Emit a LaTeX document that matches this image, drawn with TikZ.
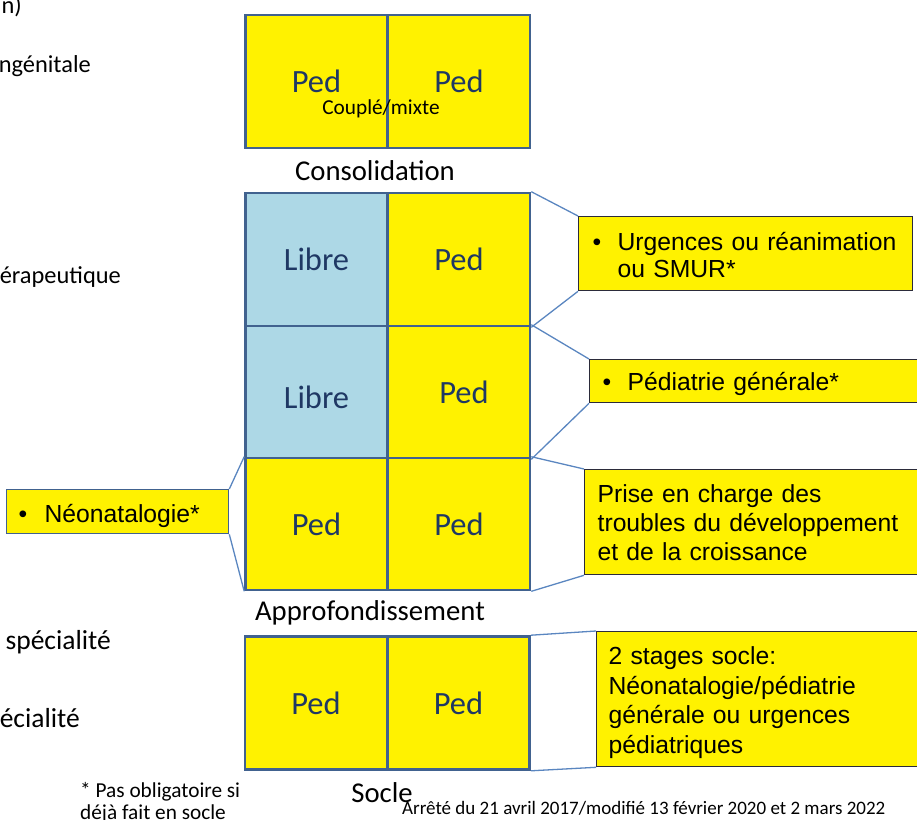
\documentclass[tikz,border=0pt]{standalone}
\usepackage{fontspec}
\setmainfont{Carlito}
\newfontfamily\arialf{Liberation Sans}
\definecolor{cellblue}{HTML}{41628F}
\definecolor{pedtext}{HTML}{1F3864}
\definecolor{linkblue}{HTML}{5A86C0}
\definecolor{libreblue}{HTML}{ADD8E6}
\definecolor{calloutedge}{HTML}{2B2B3A}
\newcommand{\bul}[1][25pt]{\makebox[#1][l]{\textbullet}}
\tikzset{
  cell/.style={draw=cellblue, line width=2.6pt, minimum width=142pt, minimum height=133pt,
    inner sep=0pt, text=pedtext, font=\fontsize{32.5}{36}\selectfont, fill=yellow},
  librecell/.style={cell, fill=libreblue},
  callout/.style={draw=calloutedge, line width=1.3pt, fill=yellow, anchor=north west,
    align=left, inner ysep=0pt, font=\arialf\fontsize{24.7}{29}\selectfont},
  link/.style={draw=linkblue, line width=1.3pt},
  lbl/.style={inner sep=0pt, font=\fontsize{24.4}{28}\selectfont},
  lblbig/.style={inner sep=0pt, font=\fontsize{27.5}{30}\selectfont},
  stagelbl/.style={inner sep=0pt, font=\fontsize{28.7}{32}\selectfont}
}
\begin{document}
\begin{tikzpicture}[x=1pt,y=-1pt]
\useasboundingbox (0,0) rectangle (917,819);
% top pair (consolidation)
\node[cell] (c1) at (316.5,81.5) {Ped};
\node[cell] (c2) at (459,81.5) {Ped};
\node[inner sep=0pt, font=\fontsize{21.3}{24}\selectfont] (coup) at (381,109) {Couplé/mixte};
\node[stagelbl] (cons) at (375,171) {Consolidation};
% middle block (approfondissement)
\node[librecell] (a11) at (316.5,259.5) {Libre};
\node[cell] (a12) at (459,259.5) {Ped};
\node[librecell, minimum height=132pt, text height=33pt, text depth=0pt] (a21) at (316.5,392) {Libre};
\node[cell, minimum height=132pt] (a22) at (459,392) {\hspace{10pt}Ped};
\node[cell, minimum height=132pt] (a31) at (316.5,524) {Ped};
\node[cell, minimum height=132pt] (a32) at (459,524) {Ped};
\node[stagelbl] (appro) at (370,613) {Approfondissement};
% socle
\node[cell] (s1) at (316,703) {Ped};
\node[cell] (s2) at (458.5,703) {Ped};
\node[stagelbl] (socle) at (382,793) {Socle};
% callouts
\node[callout, minimum width=334pt, inner xsep=14pt, text width=306pt,
  text height=34pt, text depth=40pt, font=\arialf\fontsize{24.7}{27}\selectfont] (urg) at (578,216)
  {\bul Urgences ou réanimation\\\hspace*{25pt}ou SMUR*};
\node[callout, minimum width=345pt, inner xsep=13pt, text width=319pt,
  text height=31pt, text depth=12pt] (pedg) at (589,359)
  {\bul Pédiatrie générale*};
\node[callout, minimum width=345pt, inner xsep=13pt, text width=319pt,
  text height=33pt, text depth=72pt] (prise) at (584,469)
  {Prise en charge des\\troubles du développement\\et de la croissance};
\node[callout, minimum width=335pt, inner xsep=12pt, text width=311pt,
  text height=33pt, text depth=102pt, font=\arialf\fontsize{24.7}{29.5}\selectfont] (stages) at (596,631)
  {2 stages socle:\\Néonatalogie/pédiatrie\\générale ou urgences\\pédiatriques};
\node[callout, draw=cellblue, minimum width=222pt, inner xsep=12pt, text width=198pt,
  text height=33pt, text depth=11pt] (neo) at (6,489)
  {\bul[26pt]Néonatalogie*};
% links
\draw[link] (a12.north east) -- (urg.north west);
\draw[link] (a12.south east) -- (urg.south west);
\draw[link] (a22.north east) -- (pedg.north west);
\draw[link] (a22.south east) -- (pedg.south west);
\draw[link] (a32.north east) -- (prise.north west);
\draw[link] (a32.south east) -- (prise.south west);
\draw[link] (s2.north east) -- (stages.north west);
\draw[link] (s2.south east) -- (stages.south west);
\draw[link] (a31.north west) -- (neo.north east);
\draw[link] (a31.south west) -- (neo.south east);
% cut-off left texts
\node[lbl, anchor=east] (t1) at (22,6) {n)};
\node[lbl, anchor=east] (t2) at (91,66) {ngénitale};
\node[lbl, anchor=east] (t3) at (121,277) {érapeutique};
\node[lblbig, anchor=east] (t4) at (111,642) {spécialité};
\node[lblbig, anchor=east] (t5) at (80,718) {écialité};
% footnotes
\node[inner sep=0pt, anchor=north west, align=left, font=\fontsize{21.3}{22}\selectfont] (foot) at (80,782)
  {* Pas obligatoire si\\déjà fait en socle};
\node[inner sep=0pt, anchor=west, font=\fontsize{19}{22}\selectfont] (arr) at (402,808)
  {Arrêté du 21 avril 2017/modifié 13 février 2020 et 2 mars 2022};
\end{tikzpicture}
\end{document}
